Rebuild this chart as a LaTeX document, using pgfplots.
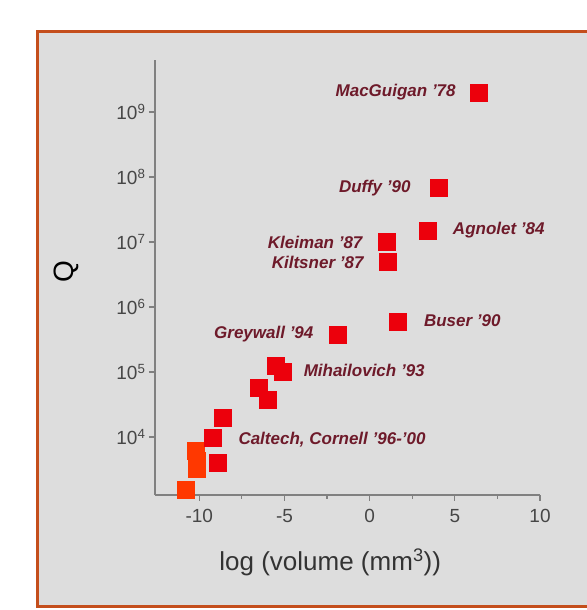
\documentclass[border=0pt]{standalone}
\usepackage{fontspec}
\setmainfont{Liberation Sans}
\usepackage{pgfplots}
\pgfplotsset{compat=1.18}
\definecolor{panelgray}{RGB}{221,221,221}
\definecolor{frameorange}{RGB}{196,78,28}
\definecolor{ptred}{RGB}{236,0,12}
\definecolor{ptorange}{RGB}{255,56,0}
\definecolor{lblred}{RGB}{110,26,42}
\definecolor{axgray}{RGB}{128,128,128}
\definecolor{txtgray}{RGB}{70,70,70}
\tikzset{lbl/.style={font=\fontsize{17}{17}\selectfont\bfseries\itshape, text=lblred, inner sep=0pt}}
\begin{document}
\begin{tikzpicture}[x=1pt,y=1pt]
\useasboundingbox (0,0) rectangle (586,610);
\fill[white] (0,0) rectangle (586,610);
\draw[frameorange, line width=3pt, fill=panelgray] (37,3) rectangle (640,578);

\begin{axis}[
at={(155pt,115pt)}, anchor=south west,
width=385pt, height=435pt, scale only axis,
ymode=log,
xmin=-12.6, xmax=10,
ymin=1283, ymax=6.3e9,
axis lines=left,
axis line style={-, draw=axgray, line width=1.6pt},
tick align=outside,
major tick length=6pt, minor tick length=4pt,
tick style={axgray, line width=1.2pt},
xtick={-10,-5,0,5,10},
xticklabels={-10,-5,0,5,10},
minor xtick={-7.5,-2.5,2.5,7.5},
ytick={1e4,1e5,1e6,1e7,1e8,1e9},
yticklabels={10\textsuperscript{4},10\textsuperscript{5},10\textsuperscript{6},10\textsuperscript{7},10\textsuperscript{8},10\textsuperscript{9}},
yminorticks=false,
ticklabel style={font=\fontsize{19}{19}\selectfont, text=txtgray},
xticklabel style={yshift=-5pt},
xlabel={log (volume (mm\textsuperscript{3}))},
ylabel={Q},
xlabel style={font=\fontsize{26}{26}\selectfont, text=black!80, at={(axis description cs:0.455,-0.154)}, anchor=center},
ylabel style={font=\fontsize{28}{28}\selectfont, text=black, at={(axis description cs:-0.23,0.513)}, anchor=center},
clip=false,
]
% Caltech / Cornell cluster, orange-red
\addplot [only marks, color=ptorange, mark=square*, mark size=8.5pt, mark options={solid, draw=ptorange, fill=ptorange}]
coordinates {
(-10.24,6100) (-10.18,4400) (-10.18,3200) (-10.82,1530)
};
% other experiments
\addplot [only marks, color=ptred, mark=square*, mark size=8.5pt, mark options={solid, draw=ptred, fill=ptred}]
coordinates {
(6.4,2.0e9) (4.06,6.8e7) (3.4,1.5e7) (1.0,1.0e7) (1.06,4.9e6)
(1.65,6.0e5) (-1.9,3.8e5) (-5.5,1.23e5) (-5.12,1.0e5)
(-6.53,5.7e4) (-6.0,3.7e4) (-8.65,2.0e4) (-9.24,9.7e3) (-8.94,4.0e3)
};
\node[lbl, anchor=east] at (axis cs:5.06,2.0e9) {MacGuigan '78};
\node[lbl, anchor=east] at (axis cs:2.41,6.8e7) {Duffy '90};
\node[lbl, anchor=west] at (axis cs:4.88,1.53e7) {Agnolet '84};
\node[lbl, anchor=east] at (axis cs:-0.41,1.0e7) {Kleiman '87};
\node[lbl, anchor=east] at (axis cs:-0.35,4.9e6) {Kiltsner '87};
\node[lbl, anchor=west] at (axis cs:3.18,6.1e5) {Buser '90};
\node[lbl, anchor=east] at (axis cs:-3.29,3.85e5) {Greywall '94};
\node[lbl, anchor=west] at (axis cs:-3.88,1.07e5) {Mihailovich '93};
\node[lbl, anchor=west] at (axis cs:-7.71,9.0e3) {Caltech, Cornell '96-'00};
\end{axis}
\end{tikzpicture}
\end{document}
